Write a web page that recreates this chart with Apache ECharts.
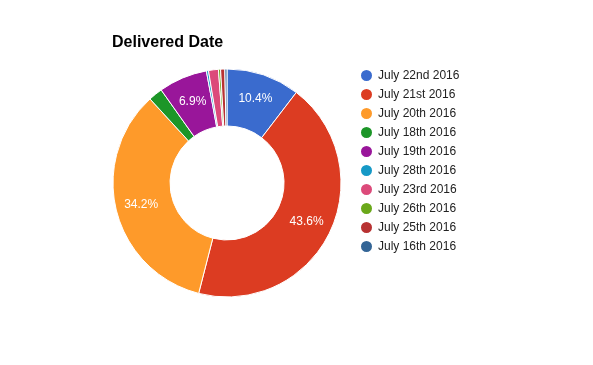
<!DOCTYPE html>
<html>
<head>
<meta charset="utf-8">
<script src="https://cdn.jsdelivr.net/npm/echarts@6/dist/echarts.min.js"></script>
<style>
html,body{margin:0;padding:0;background:#fff;}
#c{width:593px;height:365px;}
</style>
</head>
<body>
<div id="c"></div>
<script>
var categories = ['July 22nd 2016','July 21st 2016','July 20th 2016','July 18th 2016','July 19th 2016','July 28th 2016','July 23rd 2016','July 26th 2016','July 25th 2016','July 16th 2016'];
var values = [10.4, 43.6, 34.2, 2.0, 6.9, 0.3, 1.4, 0.3, 0.6, 0.3];
var colors = ['#3a6bce','#dc3c22','#fe9a2a','#1c9628','#99169a','#1699c6','#dc4a7a','#6aa81a','#b83232','#336596'];

var chart = echarts.init(document.getElementById('c'), null, {renderer:'canvas'});
chart.setOption({
  animation:false,
  color: colors,
  title:{
    text:'Delivered Date',
    left:112, top:35,
    padding:0,
    textStyle:{fontFamily:'Liberation Sans, Arial', fontSize:16, fontWeight:'bold', color:'#000'}
  },
  legend:{
    orient:'vertical',
    left:359, top:68,
    padding:0,
    icon:'circle',
    itemWidth:13, itemHeight:13, itemGap:4,
    textStyle:{fontFamily:'Liberation Sans, Arial', fontSize:12, color:'#222'},
    data: categories
  },
  series:[{
    type:'pie',
    center:[227,183],
    radius:[57,114],
    startAngle:90,
    clockwise:true,
    avoidLabelOverlap:false,
    itemStyle:{borderColor:'#fff', borderWidth:1},
    label:{
      show:true,
      position:'inside',
      color:'#fff',
      fontFamily:'Liberation Sans, Arial',
      fontSize:12,
      formatter:function(p){ return p.value >= 5 ? p.value.toFixed(1) + '%' : ''; }
    },
    labelLine:{show:false},
    emphasis:{disabled:true},
    data: categories.map(function(n,i){ return {name:n, value:values[i]}; })
  }]
});
</script>
</body>
</html>
